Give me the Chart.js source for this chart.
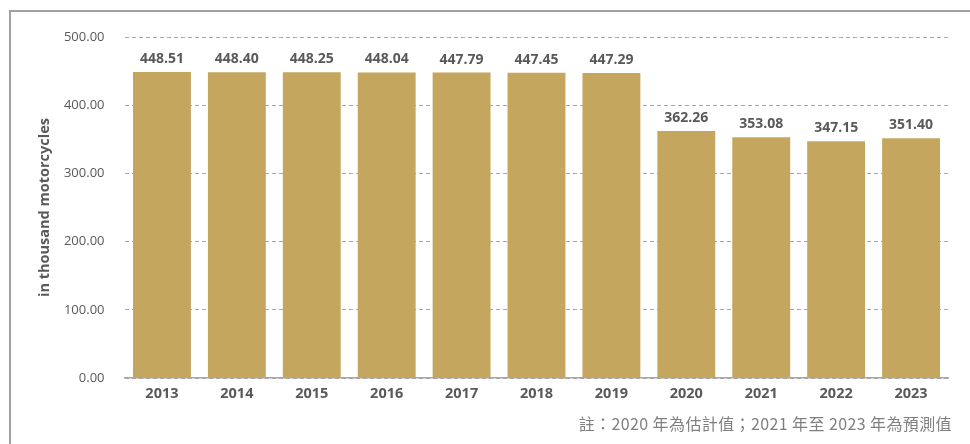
<!DOCTYPE html>
<html>
<head>
<meta charset="utf-8">
<script src="https://cdn.jsdelivr.net/npm/chart.js@4.4.1/dist/chart.umd.min.js"></script>
<style>
  html, body { margin: 0; padding: 0; background: #fff; overflow: hidden; }
  #wrap { position: relative; width: 970px; height: 444px; overflow: hidden; }
  #frame {
    position: absolute; left: 9px; top: 10px; width: 1000px; height: 500px;
    border-left: 2px solid #a0a0a0; border-top: 2px solid #a0a0a0;
  }
  #chart { position: absolute; left: 0; top: 0; }
  #note {
    position: absolute; right: 18px; top: 411px;
    font-family: "Noto Sans CJK TC", "Open Sans", sans-serif;
    font-size: 16px; letter-spacing: 0.4px; color: #7f7f7f; white-space: nowrap;
  }
</style>
</head>
<body>
<div id="wrap">
  <div id="frame"></div>
  <canvas id="chart" width="970" height="444"></canvas>
  <div id="note">註：2020 年為估計值；2021 年至 2023 年為預測值</div>
</div>
<script>
const years = ['2013', '2014', '2015', '2016', '2017', '2018', '2019', '2020', '2021', '2022', '2023'];
const motorcycles = [448.51, 448.40, 448.25, 448.04, 447.79, 447.45, 447.29, 362.26, 353.08, 347.15, 351.40];
const yTicks = [0, 100, 200, 300, 400, 500];

const textColor = '#595959';
const fontFamily = '"Open Sans", "Noto Sans", sans-serif';

// draw the numbers above each bar
const valueLabels = {
  id: 'valueLabels',
  afterDatasetsDraw(chart) {
    const ctx = chart.ctx;
    const meta = chart.getDatasetMeta(0);
    ctx.save();
    ctx.font = 'bold 14px ' + fontFamily;
    ctx.fillStyle = textColor;
    ctx.textAlign = 'center';
    ctx.textBaseline = 'middle';
    meta.data.forEach(function (bar, i) {
      ctx.fillText(motorcycles[i].toFixed(2), bar.x, bar.y - 13);
    });
    ctx.restore();
  },
};

new Chart(document.getElementById('chart').getContext('2d'), {
  type: 'bar',
  data: {
    labels: years,
    datasets: [
      {
        label: 'in thousand motorcycles',
        data: motorcycles,
        backgroundColor: '#c4a65e',
        barPercentage: 0.773,
        categoryPercentage: 1,
      },
    ],
  },
  options: {
    responsive: false,
    animation: false,
    layout: { padding: { left: 0, right: 21.5, top: 37, bottom: 0 } },
    plugins: {
      legend: { display: false },
      tooltip: { enabled: false },
    },
    scales: {
      x: {
        grid: { display: false, drawTicks: false },
        border: { display: true, color: '#a6a6a6', width: 1.5 },
        ticks: {
          color: textColor,
          padding: 7,
          font: { family: fontFamily, size: 14.5, weight: 'bold' },
        },
        afterFit(scale) {
          scale.height = 66;
        },
      },
      y: {
        min: 0,
        max: 500,
        grid: { color: '#a6a6a6', drawTicks: false, lineWidth: 1 },
        border: { display: false, dash: [4, 3] },
        afterBuildTicks(scale) {
          scale.ticks = yTicks.map(function (v) { return { value: v }; });
        },
        ticks: {
          color: textColor,
          padding: 20,
          font: { family: fontFamily, size: 13 },
          callback: function (v) { return Number(v).toFixed(2); },
        },
        title: {
          display: true,
          text: 'in thousand motorcycles',
          color: textColor,
          padding: { top: 36, bottom: 0 },
          font: { family: fontFamily, size: 14.5, weight: 'bold' },
        },
        afterFit(scale) {
          scale.width = 124.5;
        },
      },
    },
  },
  plugins: [valueLabels],
});
</script>
</body>
</html>
